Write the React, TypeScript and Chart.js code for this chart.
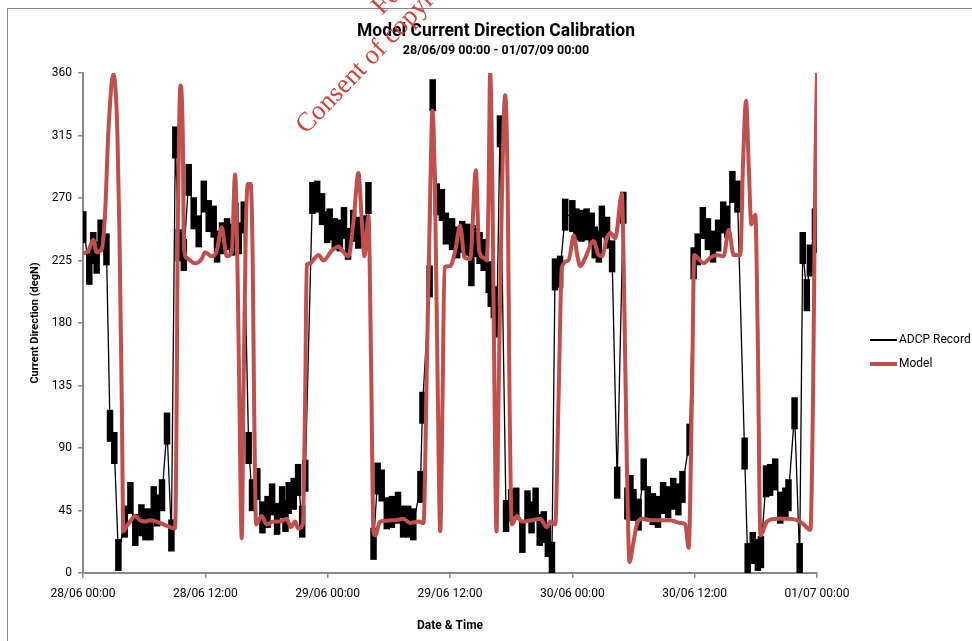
import React, { useEffect, useRef } from 'react';
import { Chart, registerables } from 'chart.js';

Chart.register(...registerables);

const xTickLabels = ['28/06 00:00', '28/06 12:00', '29/06 00:00', '29/06 12:00', '30/06 00:00', '30/06 12:00', '01/07 00:00'];

const adcpHours = [0.03, 0.62, 1.01, 1.34, 1.73, 2.3, 2.65, 3.07, 3.47, 4.09, 4.65, 5.13, 5.73, 6.12, 6.61, 6.94, 7.26, 7.75, 8.24, 8.67, 9.06, 9.39, 9.89, 10.37, 10.86, 11.35, 11.85, 12.33, 12.82, 13.15, 13.64, 14.13, 14.62, 14.95, 15.28, 15.77, 16.25, 16.58, 17.1, 17.6, 18.1, 18.55, 19.04, 19.53, 19.86, 20.18, 20.67, 21.1, 21.5, 21.8, 22.5, 22.97, 23.45, 23.95, 24.2, 24.7, 25.2, 25.6, 26.0, 26.5, 27.0, 27.6, 28.0, 28.5, 28.9, 29.3, 29.8, 30.3, 30.9, 31.4, 31.9, 32.4, 33.1, 33.3, 34.0, 34.3, 34.7, 35.2, 35.6, 36.2, 36.7, 37.2, 37.7, 38.1, 38.5, 38.9, 39.3, 39.8, 40.0, 40.3, 40.6, 40.9, 41.5, 42.0, 42.5, 43.1, 43.6, 44.0, 44.4, 44.8, 45.2, 45.6, 46.0, 46.3, 46.8, 47.3, 48.0, 48.4, 48.9, 49.4, 49.9, 50.2, 50.6, 50.9, 51.4, 51.9, 52.4, 53.0, 53.4, 53.7, 54.0, 54.5, 55.0, 55.4, 55.9, 56.4, 56.9, 57.4, 57.9, 58.4, 58.8, 59.5, 59.9, 60.3, 60.8, 61.3, 61.8, 62.3, 62.8, 63.2, 63.7, 64.2, 64.9, 65.2, 65.7, 66.2, 66.5, 67.0, 67.4, 67.9, 68.4, 68.9, 69.2, 69.8, 70.3, 70.6, 71.0, 71.3, 71.8, 72.0];
const adcpValues = [249, 219, 234, 227, 243, 233, 106, 90, 13, 37, 54, 31, 38, 35, 35, 51, 45, 56, 104, 27, 310, 236, 229, 283, 259, 246, 271, 257, 253, 235, 241, 244, 240, 255, 241, 256, 90, 56, 64, 40, 44, 53, 39, 51, 41, 54, 57, 67, 37, 70, 270, 271, 262, 249, 251, 244, 243, 252, 237, 250, 245, 246, 270, 21, 68, 63, 43, 44, 47, 37, 37, 35, 62, 119, 210, 344, 269, 265, 248, 244, 238, 242, 240, 218, 239, 234, 229, 213, 203, 195, 181, 318, 41, 49, 50, 26, 48, 40, 50, 31, 33, 23, 11, 215, 217, 258, 257, 251, 250, 251, 248, 238, 235, 253, 245, 228, 65, 263, 50, 59, 49, 42, 71, 51, 46, 44, 54, 51, 57, 53, 62, 96, 223, 233, 252, 244, 235, 243, 256, 253, 278, 271, 86, 10, 18, 13, 15, 66, 67, 71, 47, 50, 56, 115, 10, 234, 200, 225, 251, 242];

const modelHours = [0, 0.52, 1.01, 1.34, 1.83, 2.16, 2.49, 2.98, 3.37, 3.57, 3.8, 3.96, 4.3, 4.61, 5.1, 5.59, 6.08, 6.58, 7.56, 8.54, 9.03, 9.19, 9.29, 9.45, 9.58, 9.78, 9.91, 10.17, 10.99, 11.64, 11.97, 12.63, 13.12, 13.61, 14.1, 14.59, 14.92, 15.15, 15.34, 15.57, 15.74, 15.97, 16.16, 16.45, 16.65, 16.78, 16.98, 17.53, 18.02, 18.68, 19.33, 19.99, 20.38, 20.8, 21.13, 21.56, 21.79, 21.95, 22.28, 22.77, 23.1, 23.58, 24.4, 25.06, 25.55, 26.04, 26.53, 27.02, 27.35, 27.61, 28.0, 28.26, 28.49, 28.66, 29.14, 30.62, 31.44, 32.09, 32.91, 33.4, 33.73, 34.05, 34.28, 34.54, 34.81, 35.04, 35.27, 35.46, 36.02, 36.51, 37.0, 37.42, 37.98, 38.54, 38.86, 39.29, 39.61, 39.78, 39.94, 40.17, 40.37, 40.56, 40.76, 41.09, 41.41, 41.67, 41.84, 42.07, 42.56, 43.05, 44.03, 44.85, 45.5, 45.83, 46.32, 46.65, 46.97, 47.63, 48.15, 48.5, 48.78, 49.27, 50.08, 50.58, 50.9, 51.39, 51.72, 52.21, 52.86, 53.09, 53.35, 53.61, 54.01, 54.33, 54.82, 55.64, 56.62, 57.6, 58.59, 59.08, 59.41, 59.73, 59.96, 60.39, 60.88, 61.53, 62.19, 62.84, 63.33, 63.83, 64.48, 64.74, 65.04, 65.3, 65.56, 65.95, 66.18, 66.45, 67.1, 68.08, 69.06, 70.05, 70.7, 71.35, 71.61, 71.84, 72.0];
const modelValues = [230, 232, 240, 231, 233, 258, 318, 359, 318, 246, 126, 30, 34, 37, 41, 38, 37, 38, 36, 33, 32, 126, 246, 330, 351, 318, 234, 227, 223, 226, 231, 228, 232, 249, 228, 231, 287, 222, 126, 25, 126, 246, 280, 280, 222, 126, 35, 41, 35, 37, 37, 39, 33, 37, 32, 35, 126, 222, 223, 227, 229, 225, 232, 235, 231, 228, 253, 288, 253, 228, 257, 150, 30, 27, 37, 38, 39, 36, 37, 36, 150, 270, 333, 270, 126, 30, 126, 220, 221, 232, 250, 227, 226, 290, 232, 227, 225, 270, 360, 270, 126, 30, 126, 270, 344, 270, 126, 35, 41, 37, 38, 39, 33, 37, 35, 126, 220, 225, 243, 228, 221, 227, 239, 229, 228, 241, 245, 241, 273, 198, 78, 8, 23, 35, 39, 38, 38, 38, 36, 35, 18, 126, 229, 226, 223, 227, 229, 228, 247, 229, 229, 294, 340, 294, 251, 258, 174, 27, 37, 39, 39, 38, 35, 31, 126, 294, 360];

const chartTitle = 'Model Current Direction Calibration';
const chartSubtitle = '28/06/09 00:00 - 01/07/09 00:00';

const AXIS_GRAY = '#898989';
const MODEL_RED = '#c0504d';
const FONT = 'Roboto, "Open Sans", sans-serif';

export default function App() {
  const ref = useRef<HTMLCanvasElement>(null);

  useEffect(() => {
    Chart.defaults.font.family = FONT;
    const chart = new Chart(ref.current as HTMLCanvasElement, {
      type: 'line',
      data: {
        datasets: [
          {
            label: 'ADCP Record',
            data: adcpHours.map((h, i) => ({ x: h, y: adcpValues[i] })),
            borderColor: '#000',
            borderWidth: 1.3,
            pointStyle: 'line',
            pointRotation: 90,
            pointRadius: 16,
            pointBorderWidth: 6.5,
            pointBorderColor: '#000',
            pointBackgroundColor: '#000',
            tension: 0,
            order: 2,
          },
          {
            label: 'Model',
            data: modelHours.map((h, i) => ({ x: h, y: modelValues[i] })),
            borderColor: MODEL_RED,
            borderWidth: 4,
            pointRadius: 0,
            cubicInterpolationMode: 'monotone',
            order: 1,
          },
        ],
      },
      options: {
        responsive: false,
        animation: false,
        layout: { padding: { left: 0, right: 155, top: 73, bottom: 0 } },
        plugins: {
          legend: { display: false },
          tooltip: { enabled: false },
        },
        scales: {
          x: {
            type: 'linear',
            min: 0,
            max: 72,
            ticks: {
              stepSize: 12,
              autoSkip: false,
              maxRotation: 0,
              color: '#000',
              padding: 9,
              font: { size: 12 },
              callback: (v: any) => xTickLabels[Math.round(Number(v) / 12)],
            },
            grid: { drawOnChartArea: false, drawTicks: true, tickLength: 5, color: AXIS_GRAY, lineWidth: 1.5 },
            border: { color: AXIS_GRAY, width: 2 },
            title: {
              display: true,
              text: 'Date & Time',
              color: '#000',
              font: { size: 12, weight: 'bold' },
              padding: { top: 0, bottom: 8 },
            },
            afterFit: (s: any) => {
              s.height = 68;
            },
          },
          y: {
            min: 0,
            max: 360,
            ticks: { stepSize: 45, color: '#000', padding: 6, font: { size: 12 } },
            grid: { drawOnChartArea: false, drawTicks: true, tickLength: 5, color: AXIS_GRAY, lineWidth: 1.5 },
            border: { color: AXIS_GRAY, width: 2 },
            title: {
              display: true,
              text: 'Current Direction (degN)',
              color: '#000',
              font: { size: 11, weight: 'bold' },
              padding: { top: 28.4, bottom: 0 },
            },
            afterFit: (s: any) => {
              s.width = 83;
            },
          },
        },
      },
    } as any);
    return () => chart.destroy();
  }, []);

  return (
    <div style={{ position: 'fixed', left: 0, top: 0, width: 972, height: 641, overflow: 'hidden', background: '#fff' }}>
      <div style={{ position: 'absolute', left: 7, top: 8, width: 2000, height: 2000, borderLeft: '1.5px solid #8a8a8a', borderTop: '1.5px solid #8a8a8a' }} />
      <canvas ref={ref} width={972} height={641} style={{ position: 'absolute', left: 0, top: 0, width: 972, height: 641 }} />
      <div style={{ position: 'absolute', left: 296, width: 400, top: 20, textAlign: 'center', fontFamily: FONT, fontWeight: 'bold', fontSize: 17.5, lineHeight: '21px', color: '#000', whiteSpace: 'nowrap' }}>{chartTitle}</div>
      <div style={{ position: 'absolute', left: 296, width: 400, top: 41.5, textAlign: 'center', fontFamily: FONT, fontWeight: 'bold', fontSize: 12.5, lineHeight: '15px', color: '#000', whiteSpace: 'nowrap' }}>{chartSubtitle}</div>
      <div style={{ position: 'absolute', left: 870, top: 338.5, width: 27, height: 2, background: '#000' }} />
      <div style={{ position: 'absolute', left: 899, top: 332, fontFamily: FONT, fontSize: 12, lineHeight: '15px', color: '#000', whiteSpace: 'nowrap' }}>ADCP Record</div>
      <div style={{ position: 'absolute', left: 870, top: 361.5, width: 27, height: 4, background: MODEL_RED }} />
      <div style={{ position: 'absolute', left: 899, top: 356, fontFamily: FONT, fontSize: 12, lineHeight: '15px', color: '#000', whiteSpace: 'nowrap' }}>Model</div>
      <div
        style={{
          position: 'absolute',
          left: 496 - 320,
          top: -95 - 28,
          width: 640,
          height: 56,
          fontFamily: '"Liberation Serif", "DejaVu Serif", serif',
          fontSize: 27,
          lineHeight: '28px',
          color: '#c8463c',
          textAlign: 'center',
          whiteSpace: 'nowrap',
          transform: 'rotate(-46deg)',
          transformOrigin: '50% 50%',
          pointerEvents: 'none',
        }}
      >
        <div>For inspection purposes only.</div>
        <div>Consent of copyright owner required for any other use.</div>
      </div>
    </div>
  );
}
